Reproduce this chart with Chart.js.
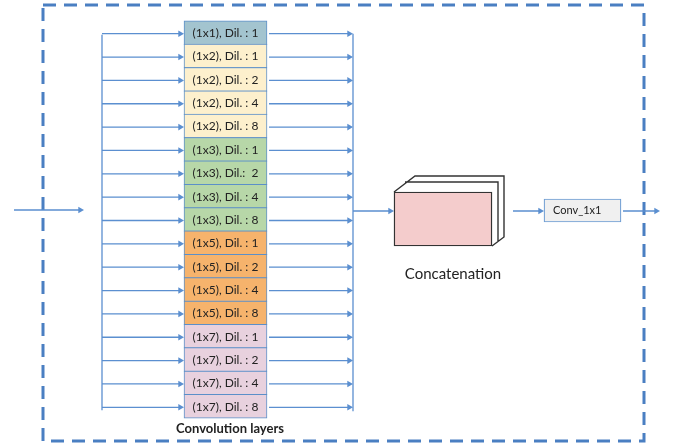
<!DOCTYPE html>
<html>
<head>
<meta charset="utf-8">
<script src="https://cdn.jsdelivr.net/npm/chart.js@4.4.1/dist/chart.umd.min.js"></script>
<style>
  html, body { margin: 0; padding: 0; background: #ffffff; }
  #wrap { width: 681px; height: 446px; position: relative; }
</style>
</head>
<body>
<div id="wrap"><canvas id="diagrama"></canvas></div>
<script>
// rótulos das camadas de convolução (de cima para baixo)
const rowLabels = [
    "(1x1), Dil. : 1",
    "(1x2), Dil. : 1", "(1x2), Dil. : 2", "(1x2), Dil. : 4", "(1x2), Dil. : 8",
    "(1x3), Dil. : 1", "(1x3), Dil.:  2", "(1x3), Dil. : 4", "(1x3), Dil. : 8",
    "(1x5), Dil. : 1", "(1x5), Dil. : 2", "(1x5), Dil. : 4", "(1x5), Dil. : 8",
    "(1x7), Dil. : 1", "(1x7), Dil. : 2", "(1x7), Dil. : 4", "(1x7), Dil. : 8"
];
const kernelOfRow = ["1x1", "1x2", "1x2", "1x2", "1x2", "1x3", "1x3", "1x3", "1x3",
    "1x5", "1x5", "1x5", "1x5", "1x7", "1x7", "1x7", "1x7"];
const stackCaption = "Convolution layers";
const concatCaption = "Concatenation";
const convLabel = "Conv_1x1";

const kernelColors = {
    "1x1": "#a3c4cf",
    "1x2": "#fdf0cd",
    "1x3": "#b7d7a8",
    "1x5": "#f6b36c",
    "1x7": "#e8d1de"
};

const azul = "#5b8fd0";
const azulBorda = "#5b8fc9";
const texto = "#222222";

// geometria do diagrama (unidades do eixo = pixels)
const W = 681, H = 446;
const stack = { left: 184, right: 267, top: 21, bottom: 418 };
const rowH = (stack.bottom - stack.top) / rowLabels.length;
const rowY = (i) => stack.top + rowH * (i + 0.5);
const busLeft = 102, busRight = 353, flowY = 211;
const headR = 3.8;
const concat = { left: 394, right: 492, top: 192, bottom: 246 };
const conv = { left: 544, right: 621, top: 199, bottom: 222 };

function seta(x0, y0, x1, y1, ponta = true) {
    return [
        { x: x0, y: y0 },
        { x: ponta ? x1 - headR : x1, y: y1, head: ponta },
        { x: null, y: null }
    ];
}

const setas = [];
rowLabels.forEach((_, i) => {
    const y = rowY(i) + 1;
    setas.push(...seta(busLeft, y, stack.left, y));
    setas.push(...seta(stack.right + 2, y, busRight, y));
});
setas.push(...seta(busLeft, rowY(0) + 2, busLeft, rowY(rowLabels.length - 1) + 4, false));
setas.push(...seta(busRight, rowY(0) + 1, busRight, rowY(rowLabels.length - 1) + 5, false));
setas.push(...seta(14, 210, 84, 210));
setas.push(...seta(busRight, flowY, concat.left, flowY));
setas.push(...seta(513, flowY, conv.left, flowY));
setas.push(...seta(conv.right + 2, flowY, 660, flowY));

// camadas de trás do bloco de concatenação
const contorno = [
    { x: concat.left, y: concat.top }, { x: 415, y: 176 }, { x: 504, y: 176 },
    { x: 504, y: 237 }, { x: concat.right, y: concat.bottom }, { x: null, y: null },
    { x: 405, y: 182 }, { x: 498, y: 182 }, { x: 498, y: 241 }
];

const moldura = [
    { x: 43, y: 5 }, { x: 644, y: 5 }, { x: 644, y: 441 }, { x: 43, y: 441 }, { x: 43, y: 5 }
];

const textos = {
    id: "textos",
    afterDatasetsDraw(chart) {
        const { ctx, scales } = chart;
        const linhas = chart.getDatasetMeta(0).data;
        ctx.save();
        ctx.fillStyle = texto;
        ctx.textBaseline = "middle";
        ctx.textAlign = "center";
        ctx.font = "12px Lato";
        linhas.forEach((barra, i) => {
            ctx.fillText(rowLabels[i], (barra.x + barra.base) / 2, barra.y + 0.5);
        });

        ctx.font = "bold 13px Lato";
        ctx.fillText(stackCaption, scales.x.getPixelForValue(230), scales.y.getPixelForValue(429));

        ctx.font = "15px Lato";
        ctx.fillText(concatCaption, scales.x.getPixelForValue(453), scales.y.getPixelForValue(274));

        const caixa = chart.getDatasetMeta(2).data[0];
        ctx.textAlign = "left";
        ctx.font = "11px Lato";
        ctx.fillText(convLabel, caixa.base + 9, caixa.y);
        ctx.restore();
    }
};

new Chart(document.getElementById("diagrama"), {
    type: "bar",
    data: {
        datasets: [
            {
                type: "bar",
                indexAxis: "y",
                data: rowLabels.map((_, i) => ({ x: [stack.left, stack.right], y: rowY(i) })),
                backgroundColor: kernelOfRow.map((k) => kernelColors[k]),
                borderColor: azulBorda,
                borderWidth: 1,
                borderSkipped: false,
                barThickness: rowH + 0.5,
                grouped: false,
                order: 1
            },
            {
                type: "bar",
                indexAxis: "y",
                data: [{ x: [concat.left, concat.right], y: (concat.top + concat.bottom) / 2 }],
                backgroundColor: "#f4cccc",
                borderColor: "#333333",
                borderWidth: 1.4,
                borderSkipped: false,
                barThickness: concat.bottom - concat.top,
                grouped: false,
                order: 1
            },
            {
                type: "bar",
                indexAxis: "y",
                data: [{ x: [conv.left, conv.right], y: (conv.top + conv.bottom) / 2 }],
                backgroundColor: "#f0f0f0",
                borderColor: "#6d9cd3",
                borderWidth: 1.2,
                borderSkipped: false,
                barThickness: conv.bottom - conv.top,
                grouped: false,
                order: 1
            },
            {
                type: "line",
                data: setas,
                borderColor: azul,
                borderWidth: 1.3,
                tension: 0,
                spanGaps: false,
                pointStyle: "triangle",
                pointRotation: 90,
                pointRadius: (c) => (c.raw && c.raw.head ? headR : 0),
                pointBackgroundColor: azul,
                pointBorderWidth: 0,
                pointHitRadius: 0,
                order: 2
            },
            {
                type: "line",
                data: contorno,
                borderColor: "#333333",
                borderWidth: 1.4,
                tension: 0,
                spanGaps: false,
                pointRadius: 0,
                order: 3
            },
            {
                type: "line",
                data: moldura,
                borderColor: "#4a7fc2",
                borderWidth: 3,
                borderDash: [13, 8],
                borderCapStyle: "butt",
                tension: 0,
                pointRadius: 0,
                order: 4
            }
        ]
    },
    options: {
        responsive: true,
        maintainAspectRatio: false,
        animation: false,
        events: [],
        layout: { padding: 0 },
        scales: {
            x: { type: "linear", min: 0, max: W, offset: false, display: false },
            y: { type: "linear", min: 0, max: H, reverse: true, offset: false, display: false }
        },
        plugins: {
            legend: { display: false },
            tooltip: { enabled: false }
        }
    },
    plugins: [textos]
});
</script>
</body>
</html>
